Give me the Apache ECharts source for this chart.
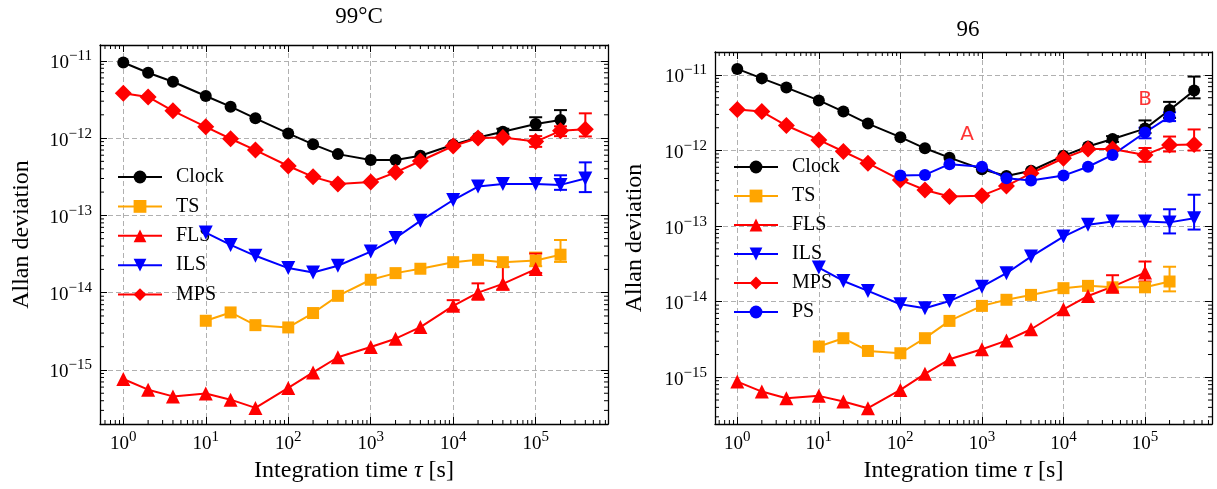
<!DOCTYPE html>
<html>
<head>
<meta charset="utf-8">
<script src="https://cdn.jsdelivr.net/npm/echarts@6/dist/echarts.min.js"></script>
<style>html,body{margin:0;padding:0;background:#fff}#c{width:1217px;height:489px}</style>
</head>
<body>
<div id="c"></div>
<script>
// ---------- data ----------
const tau = [1,2,4,10,20,40,100,200,400,1000,2000,4000,1e4,2e4,4e4,1e5,2e5,4e5];
const seriesNames = ['Clock','TS','FLS','ILS','MPS','PS'];
const titles = ['99°C','96'];

// left panel (99°C)
const L_clock = [9.5e-12,7.0e-12,5.35e-12,3.5e-12,2.55e-12,1.8e-12,1.15e-12,8.3e-13,6.2e-13,5.2e-13,5.2e-13,5.9e-13,8.2e-13,1.02e-12,1.21e-12,1.52e-12,1.71e-12,null];
const L_ts    = [null,null,null,4.33e-15,5.55e-15,3.8e-15,3.55e-15,5.45e-15,9.1e-15,1.47e-14,1.79e-14,2.04e-14,2.48e-14,2.66e-14,2.48e-14,2.6e-14,3.1e-14,null];
const L_fls   = [7.65e-16,5.56e-16,4.55e-16,4.95e-16,4.13e-16,3.23e-16,5.85e-16,9.3e-16,1.46e-15,1.98e-15,2.54e-15,3.59e-15,6.76e-15,1.0e-14,1.3e-14,2.02e-14,null,null];
const L_ils   = [null,null,null,6.0e-14,4.15e-14,3.0e-14,2.08e-14,1.82e-14,2.23e-14,3.4e-14,5.1e-14,8.5e-14,1.58e-13,2.36e-13,2.55e-13,2.55e-13,2.48e-13,3.0e-13];
const L_mps   = [3.8e-12,3.4e-12,2.25e-12,1.4e-12,9.8e-13,7.0e-13,4.35e-13,3.15e-13,2.55e-13,2.7e-13,3.6e-13,5.05e-13,7.9e-13,1.0e-12,1.02e-12,9.0e-13,1.24e-12,1.3e-12];
// error bars [tau, low, high]
const L_clock_err = [[4e4,1.12e-12,1.32e-12],[1e5,1.27e-12,1.86e-12],[2e5,1.2e-12,2.3e-12]];
const L_ts_err    = [[1e5,2.2e-14,3.3e-14],[2e5,2.5e-14,4.8e-14]];
const L_fls_err   = [[1e4,6.0e-15,8.0e-15],[2e4,8.1e-15,1.32e-14],[4e4,1.1e-14,2.15e-14],[1e5,1.8e-14,3.2e-14]];
const L_ils_err   = [[2e5,2.14e-13,3.3e-13],[4e5,2.0e-13,4.85e-13]];
const L_mps_err   = [[1e5,7.7e-13,1.06e-12],[2e5,1.06e-12,1.42e-12],[4e5,1.05e-12,2.09e-12]];

// right panel (96)
const R_clock = [1.2e-11,9.0e-12,6.8e-12,4.6e-12,3.27e-12,2.27e-12,1.5e-12,1.07e-12,8.05e-13,5.65e-13,4.6e-13,5.4e-13,8.5e-13,1.13e-12,1.42e-12,1.95e-12,3.44e-12,6.2e-12];
const R_ts    = [null,null,null,2.55e-15,3.29e-15,2.23e-15,2.08e-15,3.29e-15,5.57e-15,8.8e-15,1.06e-14,1.23e-14,1.51e-14,1.62e-14,1.55e-14,1.55e-14,1.85e-14,null];
const R_fls   = [8.77e-16,6.47e-16,5.28e-16,5.68e-16,4.78e-16,3.9e-16,6.8e-16,1.11e-15,1.73e-15,2.35e-15,3.06e-15,4.32e-15,7.94e-15,1.19e-14,1.58e-14,2.43e-14,null,null];
const R_ils   = [null,null,null,2.83e-14,1.88e-14,1.39e-14,9.26e-15,8.2e-15,1.02e-14,1.58e-14,2.38e-14,3.95e-14,7.27e-14,1.04e-13,1.15e-13,1.15e-13,1.12e-13,1.27e-13];
const R_mps   = [3.5e-12,3.27e-12,2.14e-12,1.38e-12,9.7e-13,6.8e-13,4.08e-13,3.0e-13,2.46e-13,2.53e-13,3.4e-13,5.0e-13,7.9e-13,1.05e-12,1.05e-12,8.75e-13,1.18e-12,1.2e-12];
const R_ps    = [null,null,null,null,null,null,4.66e-13,4.75e-13,6.6e-13,6.1e-13,4.3e-13,4.0e-13,4.66e-13,6.1e-13,8.75e-13,1.73e-12,2.8e-12,null];
const R_clock_err = [[4e4,1.3e-12,1.55e-12],[1e5,1.7e-12,2.5e-12],[2e5,2.7e-12,4.4e-12],[4e5,4.9e-12,9.5e-12]];
const R_ts_err    = [[2e5,1.37e-14,2.9e-14]];
const R_fls_err   = [[4e4,1.37e-14,2.24e-14],[1e5,1.85e-14,3.4e-14]];
const R_ils_err   = [[2e5,8.0e-14,1.67e-13],[4e5,9.0e-14,2.6e-13]];
const R_mps_err   = [[1e5,7.1e-13,1.08e-12],[2e5,9.7e-13,1.53e-12],[4e5,1.0e-12,1.9e-12]];
const R_ps_err    = [[1e5,1.45e-12,2.0e-12],[2e5,2.45e-12,3.2e-12]];

// annotations on right panel
const R_annot_text = ['A','B'];
const R_annot_x = [656, 1e5];
const R_annot_y = [1.6e-12, 4.7e-12];

// axis ranges
const X_range = [[0.522, 7.53e5],[0.533, 6.63e5]];
const Y_range = [[2.0e-16, 1.6e-11],[2.41e-16, 2.01e-11]];

// ---------- styling ----------
const FONT = 'Liberation Serif';
const colors = {Clock:'#000000', TS:'#FFA500', FLS:'#FF0000', ILS:'#0000FF', MPS:'#FF0000', PS:'#0000FF'};
const symbols = {Clock:'circle', TS:'rect', FLS:'triangle', ILS:'path://M0,0 L10,0 L5,9 Z', MPS:'diamond', PS:'circle'};
const symSizes = {Clock:12, TS:12, FLS:14, ILS:14, MPS:17, PS:12};

const grids = [
  {left:100, top:45, width:508, height:379},
  {left:715, top:52, width:497, height:372}
];

function expLabel(v){
  const e = Math.round(Math.log10(v));
  return '{b|10}{s|' + (e < 0 ? '\u2212' : '') + Math.abs(e) + '}';
}
const labelRich = {
  b:{fontFamily:FONT, fontSize:19, color:'#000', verticalAlign:'bottom', lineHeight:24},
  s:{fontFamily:FONT, fontSize:15, color:'#000', verticalAlign:'bottom', padding:[0,0,9,0], lineHeight:24}
};

const xAxes = [], yAxes = [];
grids.forEach((g,i)=>{
  const common = {gridIndex:i, type:'log', logBase:10};
  xAxes.push(Object.assign({}, common, {
    min:X_range[i][0], max:X_range[i][1], position:'bottom',
    axisLine:{show:true, lineStyle:{color:'#000', width:1.3}},
    axisTick:{show:true, inside:true, length:7, lineStyle:{color:'#000', width:1}},
    axisLabel:{show:true, margin:6, formatter:expLabel, rich:labelRich, showMinLabel:false, showMaxLabel:false},
    splitLine:{show:true, lineStyle:{color:'#b0b0b0', width:1, type:[5,3]}},
    name:'Integration time {i|\u03C4} [s]', nameLocation:'middle', nameGap:32,
    nameTextStyle:{fontFamily:FONT, fontSize:24, color:'#000', rich:{i:{fontFamily:FONT, fontSize:24, fontStyle:'italic', color:'#000'}}}
  }));
  xAxes.push(Object.assign({}, common, {
    min:X_range[i][0], max:X_range[i][1], position:'top',
    axisLine:{show:true, lineStyle:{color:'#000', width:1.3}},
    axisTick:{show:true, inside:true, length:7, lineStyle:{color:'#000', width:1}},
    axisLabel:{show:false}, splitLine:{show:false}
  }));
  yAxes.push(Object.assign({}, common, {
    min:Y_range[i][0], max:Y_range[i][1], position:'left',
    axisLine:{show:true, lineStyle:{color:'#000', width:1.3}},
    axisTick:{show:true, inside:true, length:7, lineStyle:{color:'#000', width:1}},
    axisLabel:{show:true, margin:8, formatter:expLabel, rich:labelRich, showMinLabel:false, showMaxLabel:false},
    splitLine:{show:true, lineStyle:{color:'#b0b0b0', width:1, type:[5,3]}},
    name:'Allan deviation', nameLocation:'middle', nameGap:[66,68][i],
    nameTextStyle:{fontFamily:FONT, fontSize:24, color:'#000'}
  }));
  yAxes.push(Object.assign({}, common, {
    min:Y_range[i][0], max:Y_range[i][1], position:'right',
    axisLine:{show:true, lineStyle:{color:'#000', width:1.3}},
    axisTick:{show:true, inside:true, length:7, lineStyle:{color:'#000', width:1}},
    axisLabel:{show:false}, splitLine:{show:false}
  }));
});

function pairs(arr){
  const out = [];
  arr.forEach((v,k)=>{ if (v !== null) out.push([tau[k], v]); });
  return out;
}

function errRender(params, api){
  const x = api.value(0), lo = api.value(1), hi = api.value(2);
  const a = api.coord([x, hi]), b = api.coord([x, lo]);
  const w = 6.5;
  const st = {stroke: api.visual('color'), lineWidth: 2, fill: null};
  return {type:'group', children:[
    {type:'line', shape:{x1:a[0], y1:a[1], x2:b[0], y2:b[1]}, style:st},
    {type:'line', shape:{x1:a[0]-w, y1:a[1], x2:a[0]+w, y2:a[1]}, style:st},
    {type:'line', shape:{x1:b[0]-w, y1:b[1], x2:b[0]+w, y2:b[1]}, style:st}
  ]};
}

const series = [];
// minor ticks (axis decoration)
grids.forEach((g,i)=>{
  const mx = [], my = [];
  for (let e=-1; e<=6; e++) for (let k=2; k<=9; k++) mx.push([k*Math.pow(10,e), Y_range[i][0]*2]);
  for (let e=-17; e<=-10; e++) for (let k=2; k<=9; k++) my.push([X_range[i][0]*2, k*Math.pow(10,e)]);
  series.push({
    type:'custom', xAxisIndex:2*i, yAxisIndex:2*i, silent:true, data:mx, z:1,
    renderItem:(params, api)=>{
      const cs = params.coordSys; const p = api.coord([api.value(0), api.value(1)]);
      if (!(p[0] > cs.x + 0.5 && p[0] < cs.x + cs.width - 0.5)) return null;
      const st = {stroke:'#000', lineWidth:1};
      return {type:'group', children:[
        {type:'line', shape:{x1:p[0], y1:cs.y+cs.height, x2:p[0], y2:cs.y+cs.height-4}, style:st},
        {type:'line', shape:{x1:p[0], y1:cs.y, x2:p[0], y2:cs.y+4}, style:st}
      ]};
    }
  });
  series.push({
    type:'custom', xAxisIndex:2*i, yAxisIndex:2*i, silent:true, data:my, z:1,
    renderItem:(params, api)=>{
      const cs = params.coordSys; const p = api.coord([api.value(0), api.value(1)]);
      if (!(p[1] > cs.y + 0.5 && p[1] < cs.y + cs.height - 0.5)) return null;
      const st = {stroke:'#000', lineWidth:1};
      return {type:'group', children:[
        {type:'line', shape:{x1:cs.x, y1:p[1], x2:cs.x+4, y2:p[1]}, style:st},
        {type:'line', shape:{x1:cs.x+cs.width, y1:p[1], x2:cs.x+cs.width-4, y2:p[1]}, style:st}
      ]};
    }
  });
});

function addPanel(i, list){
  list.forEach(([name, vals, errs])=>{
    const c = colors[name];
    series.push({
      type:'custom', name:name+' err', xAxisIndex:2*i, yAxisIndex:2*i, silent:true,
      itemStyle:{color:c}, data:errs, renderItem:errRender, z:3
    });
    series.push({
      type:'line', name:name, xAxisIndex:2*i, yAxisIndex:2*i, data:pairs(vals),
      symbol:symbols[name], symbolSize:symSizes[name], showAllSymbol:true,
      itemStyle:{color:c, borderWidth:0}, lineStyle:{color:c, width:2},
      emphasis:{disabled:true}, animation:false, z:4
    });
  });
}
addPanel(0, [['Clock',L_clock,L_clock_err],['TS',L_ts,L_ts_err],['FLS',L_fls,L_fls_err],['ILS',L_ils,L_ils_err],['MPS',L_mps,L_mps_err]]);
addPanel(1, [['Clock',R_clock,R_clock_err],['TS',R_ts,R_ts_err],['FLS',R_fls,R_fls_err],['ILS',R_ils,R_ils_err],['MPS',R_mps,R_mps_err],['PS',R_ps,R_ps_err]]);

series.push({
  type:'scatter', xAxisIndex:2, yAxisIndex:2, silent:true, symbolSize:2,
  itemStyle:{color:'rgba(0,0,0,0)'},
  data: R_annot_text.map((t,k)=>[R_annot_x[k], R_annot_y[k], t]),
  label:{show:true, position:'inside', formatter:p=>p.value[2], color:'#FF0000', fontFamily:'DejaVu Sans', fontSize:20},
  z:6
});

const legendBase = {
  orient:'vertical', itemWidth:44, itemHeight:16, selectedMode:false, padding:0,
  textStyle:{fontFamily:FONT, fontSize:20, color:'#000', padding:[0,0,0,9]}
};

const option = {
  backgroundColor:'#fff',
  animation:false,
  title:[
    {text:titles[0], left:354, top:0, textAlign:'center', textStyle:{fontFamily:FONT, fontSize:23, fontWeight:'normal', color:'#000'}},
    {text:titles[1], left:963, top:13, textAlign:'center', textStyle:{fontFamily:FONT, fontSize:23, fontWeight:'normal', color:'#000'}}
  ],
  legend:[
    Object.assign({}, legendBase, {data:seriesNames.slice(0,5), left:117, top:167, itemGap:9.4}),
    Object.assign({}, legendBase, {data:seriesNames.slice(0,6), left:733, top:157, itemGap:9})
  ],
  grid: grids,
  xAxis: xAxes,
  yAxis: yAxes,
  series: series
};

const chart = echarts.init(document.getElementById('c'), null, {renderer:'canvas'});
chart.setOption(option);
</script>
</body>
</html>
